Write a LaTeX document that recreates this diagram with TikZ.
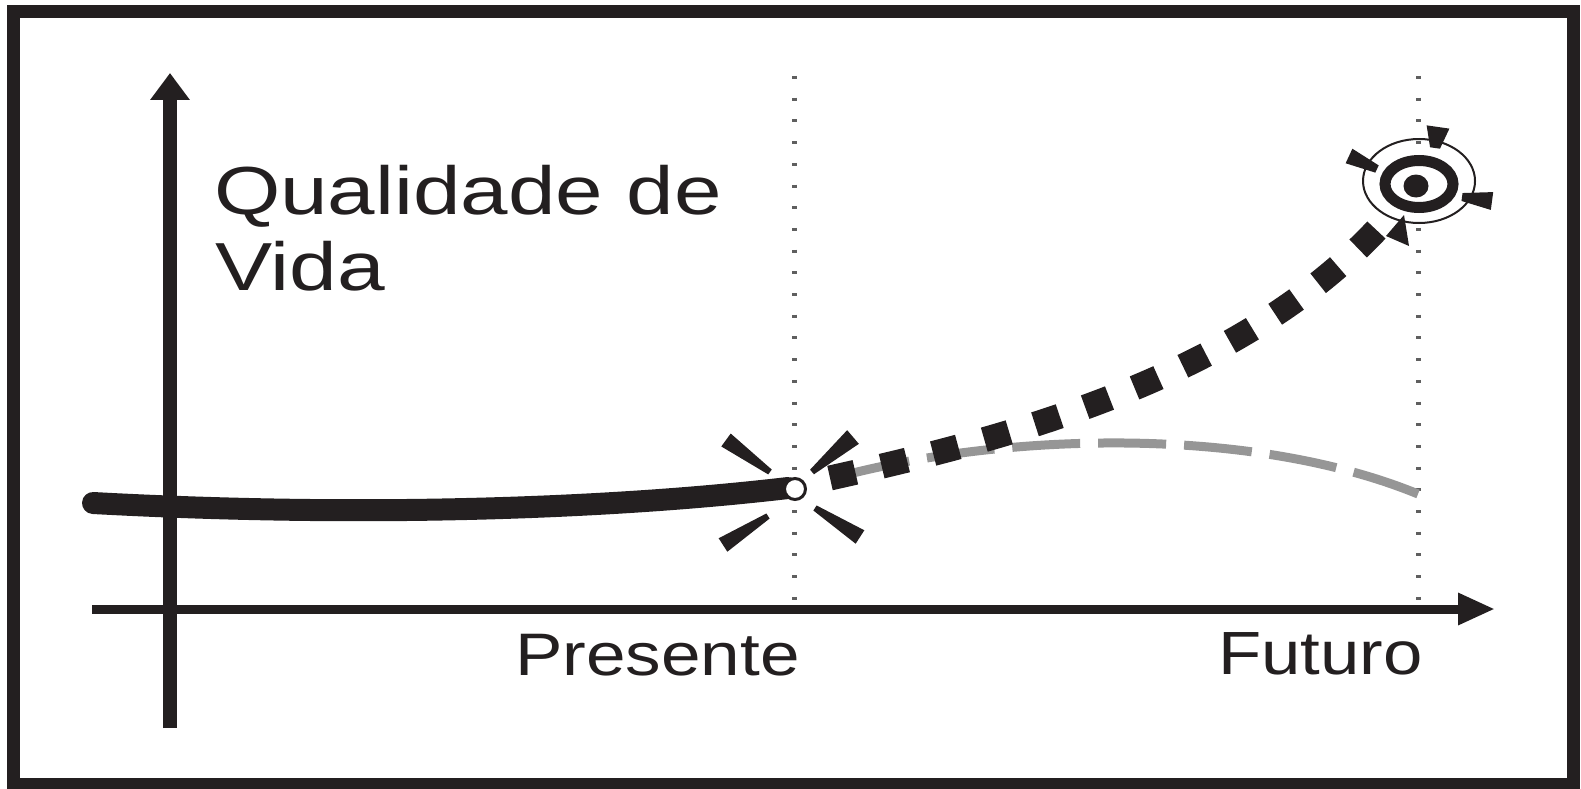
\documentclass[tikz,border=0pt]{standalone}
\usepackage{fontspec}
\setmainfont{Liberation Sans}
\usepackage{graphicx}
\usetikzlibrary{calc,arrows.meta}
\definecolor{ink}{RGB}{35,31,32}
\definecolor{curvegray}{RGB}{150,150,150}
\definecolor{dotgray}{RGB}{95,95,95}
% trapezoid wedge: outer point (#1,#2), inner point (#3,#4), half widths #5 (outer) and #6 (inner)
\newcommand{\wedgeshape}[6]{%
  \fill[ink] ($(#1,#2)!#5!90:(#3,#4)$) -- ($(#1,#2)!#5!-90:(#3,#4)$) --
             ($(#3,#4)!#6!90:(#1,#2)$) -- ($(#3,#4)!#6!-90:(#1,#2)$) -- cycle;}
\tikzset{
  lbl/.style={inner sep=0pt, outer sep=0pt, text=ink},
  axisline/.style={draw=ink, line cap=butt},
  guide/.style={draw=dotgray, line width=5pt, dash pattern=on 3pt off 18.7pt},
}
\begin{document}
\begin{tikzpicture}[x=1pt,y=-1pt]
\useasboundingbox (0,0) rectangle (1581,789);
% frame
\draw[ink, line width=13pt] (13.5,12) rectangle (1573.5,784);
% guide lines
\coordinate (g1t) at (794,76);  \coordinate (g1b) at (794,602);
\coordinate (g2t) at (1418,76); \coordinate (g2b) at (1418,602);
\draw[guide] (g1t) -- (g1b);
\draw[guide] (g2t) -- (g2b);
% axes
\coordinate (ybot) at (170,728); \coordinate (ytop) at (170,73);
\coordinate (xl) at (92,609);    \coordinate (xr) at (1495,609);
\draw[axisline, line width=14pt, -{Triangle[length=27pt,width=38pt]}] (ybot) -- (ytop);
\draw[axisline, line width=9pt, -{Triangle[length=37pt,width=30pt]}] (xl) -- (xr);
% labels
\node[lbl, anchor=base west] (qual) at (214,214) {\fontsize{68}{76}\selectfont\scalebox{1.255}[1]{Qualidade de}};
\node[lbl, anchor=base west] (vida) at (215,290) {\fontsize{68}{76}\selectfont\scalebox{1.26}[1]{Vida}};
\node[lbl, anchor=base west] (pres) at (515,675) {\fontsize{60}{70}\selectfont\scalebox{1.185}[1]{Presente}};
\node[lbl, anchor=base west] (fut) at (1218,674) {\fontsize{61}{70}\selectfont\scalebox{1.16}[1]{Futuro}};
% past curve
\coordinate (p0) at (93,503);
\coordinate (now) at (795,489);
\draw[ink, line width=22pt, line cap=round] (p0) .. controls (350,517) and (600,510) .. (788,488);
% gray (no change) curve
\coordinate (gend) at (1418,494);
\coordinate (gstart) at (830,479);
\draw[curvegray, line width=9pt, dash pattern=on 68pt off 18pt] (gend) .. controls (1250,425) and (1000,432) .. (gstart);
% black (improved) curve
\coordinate (bstart) at (830,478);
\coordinate (bend) at (1382,224);
\draw[ink, line width=25pt, dash pattern=on 26pt off 27pt] (bstart) .. controls (1000,440) and (1240,380) .. (bend);
\fill[ink] (1404,215) -- (1386,236) -- (1409,246) -- cycle;
% present point
\draw[ink, line width=3pt, fill=white] (now) circle (10.5pt);
\wedgeshape{726}{440}{770}{472}{8pt}{3pt}
\wedgeshape{853}{437}{812}{472}{9pt}{3pt}
\wedgeshape{723}{545}{768}{516}{8pt}{3pt}
\wedgeshape{860}{537}{815}{508}{8pt}{3pt}
% target
\coordinate (tc) at (1419,184);
\draw[ink, line width=2pt] (1419,181) ellipse [x radius=56pt, y radius=42pt];
\draw[ink, line width=11pt, fill=white] (tc) ellipse [x radius=34pt, y radius=23.5pt];
\fill[ink] (1416,186) ellipse [x radius=12.5pt, y radius=11.5pt];
\wedgeshape{1438}{127}{1435}{148}{11.5pt}{5pt}
\wedgeshape{1349}{156}{1377}{169}{8pt}{4pt}
\wedgeshape{1492}{201}{1462}{197}{9pt}{4pt}
\end{tikzpicture}
\end{document}
